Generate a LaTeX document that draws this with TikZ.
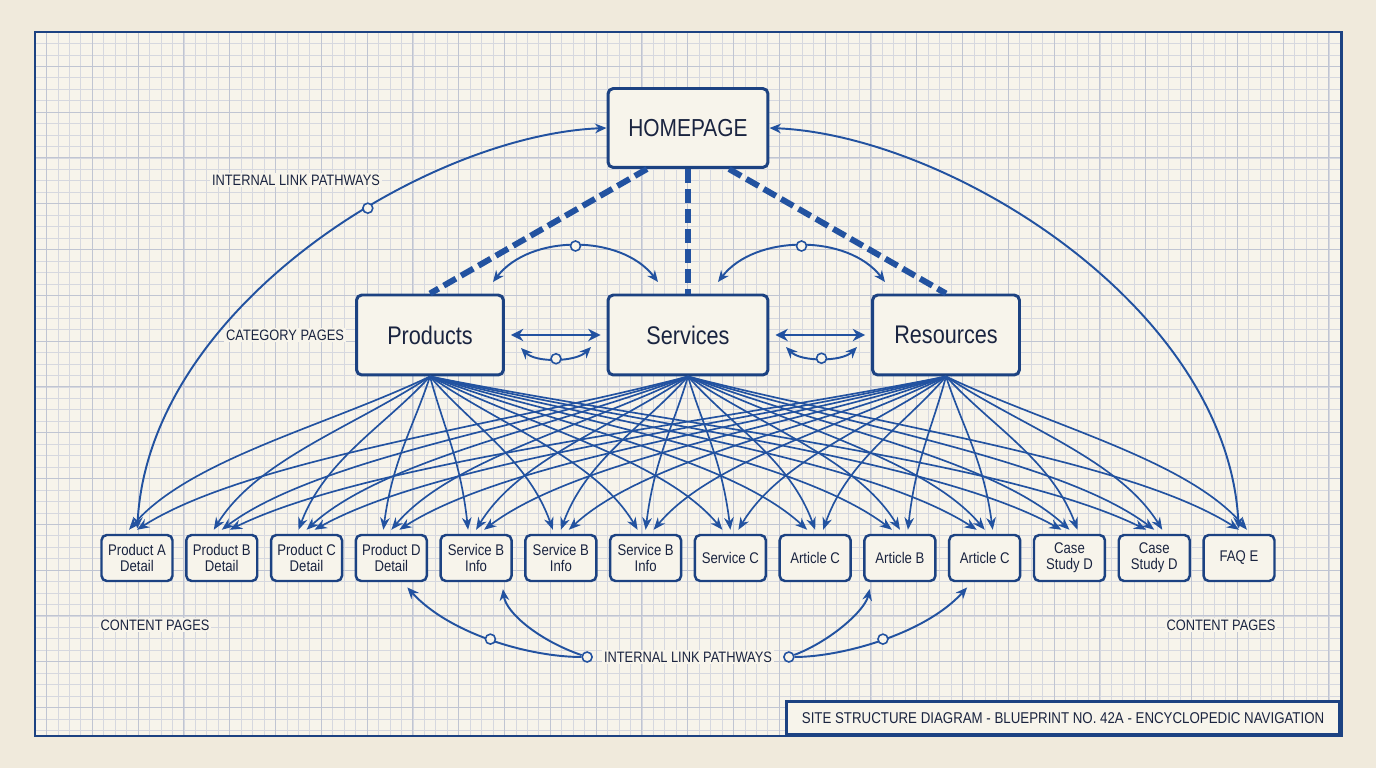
\documentclass[tikz,border=0pt]{standalone}
\usepackage{fontspec}
\setmainfont[FakeStretch=0.85]{Liberation Sans}
\usetikzlibrary{positioning,calc,arrows.meta}

\definecolor{bpink}{RGB}{28,66,130}
\definecolor{bpline}{RGB}{34,82,160}
\definecolor{bptext}{RGB}{26,36,64}
\definecolor{paper}{RGB}{247,244,235}
\definecolor{paperedge}{RGB}{240,234,220}
\definecolor{gridfine}{RGB}{214,216,223}
\definecolor{gridbold}{RGB}{192,197,210}

\tikzset{
  pagebase/.style={draw=bpink, line width=1.7pt, rounded corners=3pt, fill=paper, text=bptext, inner sep=0pt},
  homebox/.style={pagebase, minimum width=3.2cm, minimum height=1.58cm, font=\fontsize{14}{16}\selectfont},
  catbox/.style={pagebase, minimum width=2.94cm, minimum height=1.6cm, font=\fontsize{14.5}{16}\selectfont},
  contentbox/.style={pagebase, line width=1.4pt, minimum width=1.42cm, minimum height=0.92cm, align=center, font=\fontsize{8.8}{9}\selectfont},
  lbl/.style={text=bptext, fill=paper, inner sep=1pt, font=\fontsize{8.6}{10}\selectfont},
  titlebox/.style={draw=bpink, line width=1.7pt, fill=paper, text=bptext, inner sep=0pt, minimum width=11.06cm, minimum height=0.66cm, font=\fontsize{8.9}{11}\selectfont},
  hubdash/.style={draw=bpline, line width=3.4pt, dash pattern=on 8pt off 3.4pt},
  pathline/.style={draw=bpline, line width=1.1pt, {Stealth[length=6.5pt,width=5.5pt]}-{Stealth[length=6.5pt,width=5.5pt]}},
  pathone/.style={draw=bpline, line width=1.1pt, -{Stealth[length=6.5pt,width=5.5pt]}},
  sidearrow/.style={draw=bpline, line width=1.5pt, {Stealth[length=7pt,width=7pt]}-{Stealth[length=7pt,width=7pt]}, shorten <=0.12cm, shorten >=0.12cm},
  fanline/.style={draw=bpline, line width=0.95pt, -{Stealth[length=7pt,width=5.5pt]}},
  ringmark/.style={circle, draw=bpline, line width=0.9pt, fill=paper, minimum size=0.2cm, inner sep=0pt},
}

\begin{document}
\begin{tikzpicture}[x=0.02cm, y=0.02cm]
  \useasboundingbox (0,0) rectangle (1376,768);
  \fill[paperedge] (0,0) rectangle (1376,768);
  \fill[paper] (35,32) rectangle (1341,736);

  \foreach \i in {1,...,113} {
    \draw[gridfine, line width=0.4pt] ({35+\i*11.45},32) -- ({35+\i*11.45},736);
  }
  \foreach \k in {1,...,61} {
    \draw[gridfine, line width=0.4pt] (35,{736-\k*11.45}) -- (1341,{736-\k*11.45});
  }
  \foreach \i in {1,5,...,113} {
    \draw[gridbold, line width=0.6pt] ({35+\i*11.45},32) -- ({35+\i*11.45},736);
  }
  \foreach \k in {3,7,...,59} {
    \draw[gridbold, line width=0.6pt] (35,{736-\k*11.45}) -- (1341,{736-\k*11.45});
  }
  \draw[bpink, line width=1.7pt] (35,32) rectangle (1341,736);

  \node[homebox] (home) at (688,640) {HOMEPAGE};
  \node[catbox] (prod) at (430,433) {Products};
  \node[catbox, minimum width=3.2cm] (serv) at (688,433) {Services};
  \node[catbox] (res) at (946,433) {Resources};

  \foreach[count=\i] \t in {{Product A\\Detail},{Product B\\Detail},{Product C\\Detail},{Product D\\Detail},
      {Service B\\Info},{Service B\\Info},{Service B\\Info},{Service C},{Article C},{Article B},{Article C},
      {Case\\Study D},{Case\\Study D},{FAQ E}} {
    \node[contentbox] (c\i) at ({137+(\i-1)*84.77},210) {\t};
  }

  \node[lbl] (ilptop) at (296,588) {INTERNAL LINK PATHWAYS};
  \node[lbl, left=0.18cm of prod] (catlbl) {CATEGORY PAGES};
  \node[lbl] (cpleft) at (155,143) {CONTENT PAGES};
  \node[lbl] (cpright) at (1221,143) {CONTENT PAGES};
  \node[lbl] (ilpbot) at (688,111) {INTERNAL LINK PATHWAYS};
  \node[ringmark, left=0.18cm of ilpbot] (ringL) {};
  \node[ringmark, right=0.18cm of ilpbot] (ringR) {};
  \node[titlebox, anchor=south east] (title) at (1341,32) {SITE STRUCTURE DIAGRAM - BLUEPRINT NO. 42A - ENCYCLOPEDIC NAVIGATION};

  \draw[hubdash] (home.-135) -- (prod.north);
  \draw[hubdash] (home.south) -- (serv.north);
  \draw[hubdash] (home.-45) -- (res.north);

  \coordinate (pu1) at (493,486);
  \coordinate (pu2) at (658,486);
  \coordinate (pu3) at (718,486);
  \coordinate (pu4) at (885,486);
  \draw[pathline] (pu1) .. controls +(37,48) and +(-37,48) .. node[ringmark, pos=0.5] (ru1) {} (pu2);
  \draw[pathline] (pu3) .. controls +(37,48) and +(-37,48) .. node[ringmark, pos=0.5] (ru2) {} (pu4);
  \draw[sidearrow] (prod.east) -- (serv.west);
  \draw[sidearrow] (serv.east) -- (res.west);
  \coordinate (pl1) at (521,420);
  \coordinate (pl2) at (591,421);
  \coordinate (pl3) at (786,421);
  \coordinate (pl4) at (857,421);
  \draw[pathline] (pl1) .. controls +(15,-15) and +(-15,-15) .. node[ringmark, pos=0.5] (rl1) {} (pl2);
  \draw[pathline] (pl3) .. controls +(15,-15) and +(-15,-15) .. node[ringmark, pos=0.5] (rl2) {} (pl4);

  \draw[pathline, shorten <=3pt] (c1.north) .. controls +(12,228) and +(-178,-7) .. node[ringmark, pos=0.6] (rbig) {} (home.west);
  \draw[pathline, shorten <=3pt] (c14.north) .. controls +(-12,228) and +(178,-7) .. (home.east);

  \foreach \s/\sx/\off/\first/\last in {prod/430/-8/1/13, serv/688/0/1/14, res/946/8/2/14} {
    \foreach \i in {\first,...,\last} {
      \pgfmathsetmacro\dx{137+(\i-1)*84.77+\off-\sx}
      \pgfmathsetmacro\ca{0.35*\dx}
      \pgfmathsetmacro\cb{-0.2*\dx}
      \draw[fanline] (\s.south) .. controls +(\ca,-50) and +(\cb,70) .. ($(c\i.north)+(\off,4)$);
    }
  }

  \draw[pathone, shorten >=4pt] (ringL) .. controls +(-57,0) and +(47,-52) .. node[ringmark, pos=0.5] (rb1) {} (c4.-65);
  \draw[pathone, shorten >=4pt] (ringL) .. controls +(-47,16) and +(4,-31) .. (c5.-43);
  \draw[pathone, shorten >=4pt] (ringR) .. controls +(42,16) and +(-6,-28) .. (c10.-140);
  \draw[pathone, shorten >=4pt] (ringR) .. controls +(52,0) and +(-47,-52) .. node[ringmark, pos=0.5] (rb2) {} (c11.-118);
\end{tikzpicture}
\end{document}
